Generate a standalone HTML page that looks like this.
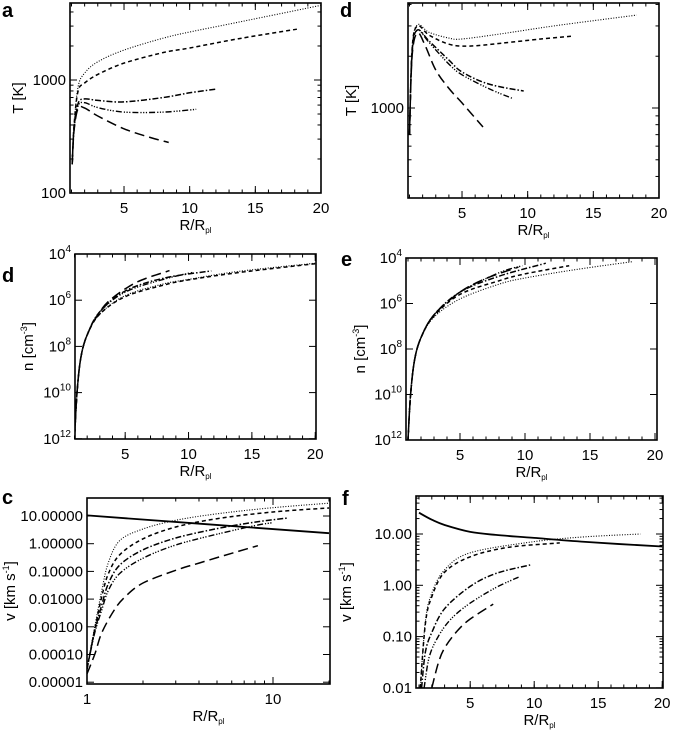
<!DOCTYPE html>
<html><head><meta charset="utf-8">
<style>
html,body{margin:0;padding:0;background:#fff;}
svg{display:block;font-family:"Liberation Sans",sans-serif;}
</style></head>
<body>
<svg id="fig" width="676" height="731" viewBox="0 0 676 731"></svg>
<script>
// ---------- data ----------
// Panel a: temperature T [K]
const aDotX=[1.05,1.2,1.5,2,3,5,8,10,14,20];
const aDotY=[180,400,870,1150,1450,1840,2350,2660,3300,4580];
const aDashX=[1.05,1.2,1.5,2,3,5,8,10,14,18.3];
const aDashY=[180,400,800,940,1120,1410,1750,1920,2350,2830];
const aDdX=[1.05,1.2,1.5,2,3,5,8,10,12];
const aDdY=[180,380,620,680,660,640,700,770,830];
const aD3X=[1.05,1.2,1.5,2,3,5,8,10.5];
const aD3Y=[180,370,590,630,570,520,520,550];
const aLongX=[1.05,1.2,1.5,2,3,5,7,8.4];
const aLongY=[180,360,560,565,480,370,310,280];
// Panel d (top right): temperature
const dDotX=[1.0,1.2,1.6,2.5,4,5,8,12,18.3];
const dDotY=[700,2200,3040,2750,2550,2520,2700,3000,3470];
const dDashX=[1.0,1.2,1.6,2.5,4,5.5,8,11,13.5];
const dDashY=[700,2200,3000,2650,2350,2290,2380,2520,2620];
const dDdX=[1.0,1.2,1.6,2.5,4,5,7,9.7];
const dDdY=[700,2100,2840,2450,1900,1620,1380,1255];
const dD3X=[1.0,1.2,1.6,2.5,4,5,7,8.8];
const dD3Y=[700,2100,2840,2400,1800,1560,1300,1140];
const dLongX=[1.0,1.2,1.6,2.2,3,4,5,6.6];
const dLongY=[700,2000,2730,2300,1660,1300,1070,775];
// Panel d (middle left): density exponent
const nDotX=[1.0,1.2,1.5,2,3,5,8,10,14,20];
const nDotY=[12,10,8.5,7.5,6.6,5.8,5.3,5.1,4.75,4.4];
const nDashX=[1.0,1.2,1.5,2,3,5,8,10,14,20];
const nDashY=[12,10,8.5,7.5,6.6,5.85,5.35,5.12,4.8,4.42];
const nDdX=[1.0,1.2,1.5,2,3,5,8,11.8];
const nDdY=[12,10,8.5,7.5,6.5,5.6,5.05,4.73];
const nD3X=[1.0,1.2,1.5,2,3,5,8,10.3];
const nD3Y=[12,10,8.5,7.5,6.5,5.65,5.1,4.8];
const nLongX=[1.0,1.2,1.5,2,3,4,6,8.5];
const nLongY=[12,10,8.5,7.5,6.5,5.9,5.2,4.72];
// Panel e: density exponent
const eDotX=[1.0,1.2,1.5,2,3,5,8,10,14,18.3];
const eDotY=[12,10,8.5,7.5,6.6,5.8,5.15,4.88,4.5,4.16];
const eDashX=[1.0,1.2,1.5,2,3,5,8,10,13.4];
const eDashY=[12,10,8.5,7.5,6.55,5.6,5.0,4.7,4.34];
const eDdX=[1.0,1.2,1.5,2,3,5,8,11.6];
const eDdY=[12,10,8.5,7.5,6.5,5.5,4.8,4.23];
const eD3X=[1.0,1.2,1.5,2,3,5,8,9.8];
const eD3Y=[12,10,8.5,7.5,6.5,5.5,4.65,4.34];
const eLongX=[1.0,1.2,1.5,2,3,5,7,9.5];
const eLongY=[12,10,8.5,7.5,6.5,5.5,4.9,4.4];
// Panel c: velocity [km/s], log x
const cSolidX=[1,20];
const cSolidY=[10.5,2.4];
const cDotX=[1.0,1.1,1.2,1.3,1.5,2,3,5,10,20];
const cDotY=[0.00003,0.001,0.02,0.2,1.3,3.4,7,12,20,29];
const cDashX=[1.0,1.1,1.2,1.3,1.5,2,3,5,10,20];
const cDashY=[0.00003,0.0008,0.012,0.08,0.4,1.5,4,8,14,19.5];
const cDdX=[1.0,1.1,1.2,1.3,1.5,2,3,5,8,12];
const cDdY=[0.00003,0.0007,0.006,0.035,0.17,0.6,1.6,3.5,6,8.5];
const cD3X=[1.0,1.1,1.2,1.3,1.5,2,3,5,8,10];
const cD3Y=[0.00003,0.0006,0.004,0.02,0.085,0.3,0.9,2.2,4.5,5.8];
const cLongX=[1.0,1.1,1.2,1.4,1.6,2,3,4,6,8.3];
const cLongY=[0.00002,0.0001,0.0006,0.004,0.012,0.038,0.11,0.2,0.45,0.85];
// Panel f: velocity
const fSolidX=[1,2,3,5,7,10,14,20];
const fSolidY=[26,19,15,11,9.6,8.4,7.0,5.7];
const fDotX=[1.1,1.5,2,3,5,10,14,18.3];
const fDotY=[0.01,0.2,0.7,2,4.3,7.1,8.8,10];
const fDashX=[1.1,1.5,2,3,5,8,12];
const fDashY=[0.01,0.18,0.6,1.8,3.6,5.5,6.7];
const fDdX=[1.2,1.5,2,3,5,7,9.7];
const fDdY=[0.01,0.05,0.12,0.35,0.95,1.7,2.5];
const fD3X=[1.4,1.8,2.5,3.5,5,7,8.8];
const fD3Y=[0.01,0.04,0.1,0.22,0.45,0.9,1.45];
const fLongX=[2,2.5,3,4,5,6.8];
const fLongY=[0.01,0.03,0.06,0.13,0.22,0.43];

// ---------- drawing ----------
const NS="http://www.w3.org/2000/svg";
const svg=document.getElementById('fig');
const L=Math.log10;
function mk(tag,attrs,parent){const e=document.createElementNS(NS,tag);for(const k in attrs)e.setAttribute(k,attrs[k]);(parent||svg).appendChild(e);return e;}
const STY={
 dot:{da:"1,1.6",w:1.1},
 dash:{da:"4,3",w:1.5},
 dd:{da:"6,2,1.5,2",w:1.5},
 d3:{da:"6,2,1.2,1.5,1.2,1.5,1.2,2",w:1.4},
 long:{da:"10,5",w:1.5},
 solid:{da:"none",w:1.8}
};
function series(g,p,xs,ys,kind,name){
  const P=xs.map((x,i)=>[p.sx(x),p.sy(ys[i])]);
  let d="M"+P[0][0].toFixed(1)+","+P[0][1].toFixed(1);
  for(let i=0;i<P.length-1;i++){
    const p0=P[Math.max(0,i-1)],p1=P[i],p2=P[i+1],p3=P[Math.min(P.length-1,i+2)];
    const c1=[p1[0]+(p2[0]-p0[0])/6,p1[1]+(p2[1]-p0[1])/6];
    const c2=[p2[0]-(p3[0]-p1[0])/6,p2[1]-(p3[1]-p1[1])/6];
    d+="C"+c1.map(v=>v.toFixed(1)).join(",")+" "+c2.map(v=>v.toFixed(1)).join(",")+" "+p2.map(v=>v.toFixed(1)).join(",");
  }
  const s=STY[kind];
  const e=mk('path',{d:d,fill:"none",stroke:"#000","stroke-width":s.w,"stroke-dasharray":s.da,"stroke-linejoin":"round"},g);
  
  
}
function text(g,x,y,str,opt){
  const t=mk('text',Object.assign({x:x,y:y,"font-size":15,fill:"#000"},opt||{}),g);
  t.textContent=str;return t;
}
function panel(p){
  const g=mk('g',{});
  
  
  const [x0,y0,x1,y1]=p.box;
  const tk=mk('g',{stroke:"#000","stroke-width":1},g);
  
  
  p.xmaj.forEach(v=>{const x=p.sx(v);mk('line',{x1:x,y1:y1,x2:x,y2:y1-7},tk);mk('line',{x1:x,y1:y0,x2:x,y2:y0+7},tk);});
  p.xmin.forEach(v=>{const x=p.sx(v);mk('line',{x1:x,y1:y1,x2:x,y2:y1-3.5},tk);mk('line',{x1:x,y1:y0,x2:x,y2:y0+3.5},tk);});
  p.ymaj.forEach(v=>{const y=p.sy(v);mk('line',{x1:x0,y1:y,x2:x0+7,y2:y},tk);mk('line',{x1:x1,y1:y,x2:x1-7,y2:y},tk);});
  p.ymin.forEach(v=>{const y=p.sy(v);mk('line',{x1:x0,y1:y,x2:x0+3.5,y2:y},tk);mk('line',{x1:x1,y1:y,x2:x1-3.5,y2:y},tk);});
  const b=mk('rect',{x:x0,y:y0,width:x1-x0,height:y1-y0,fill:"none",stroke:"#000","stroke-width":1.6},g);
  
  
  p.xlab.forEach(([v,s])=>{const t=text(g,p.sx(v),y1+20,s,{"text-anchor":"middle"});
    
    });
  p.ylab.forEach(([v,s,sup])=>{const t=text(g,x0-4,p.sy(v)+5,s,{"text-anchor":"end"});
    if(sup){const ts=mk('tspan',{"font-size":10,dy:-7},t);ts.textContent=sup;}
    
    });
  const xt=text(g,(x0+x1)/2,y1+37,"R/R",{"text-anchor":"middle","font-size":15});
  const sub=mk('tspan',{"font-size":8,dy:3},xt);sub.textContent="pl";
  
  
  const yt=mk('text',{x:0,y:0,"font-size":15,"text-anchor":"middle",transform:`translate(${p.ytx},${(y0+y1)/2}) rotate(-90)`},g);
  yt.innerHTML=p.ytitle;
  
  
  const lt=text(g,p.lx,p.ly,p.letter,{"font-size":20,"font-weight":"bold"});
  
  
  const cid='c'+p.letter+p.box[1];
  const cp=mk('clipPath',{id:cid},g);mk('rect',{x:x0,y:y0,width:x1-x0,height:y1-y0},cp);
  const sg=mk('g',{"clip-path":`url(#${cid})`},g);
  p.series.forEach(s=>series(sg,p,s[0],s[1],s[2],s[3]));
}
const lin=(a,b)=>{const r=[];for(let v=a;v<=b;v++)r.push(v);return r;};
const logMinor=(ds)=>{const r=[];ds.forEach(d=>{for(let k=2;k<=9;k++)r.push(k*Math.pow(10,d));});return r;};
const xl=[[5,"5"],[10,"10"],[15,"15"],[20,"20"]];
const v5=[5,10,15,20];

panel({name:"panel-a-temperature",box:[70,3,321,193],letter:"a",lx:2,ly:17,
 sx:v=>71.5+(v-1)*13.13, sy:v=>193-113*L(v/100),
 xmaj:v5,xmin:lin(1,20),ymaj:[100,1000],ymin:logMinor([2,3]).filter(v=>v<4800),
 xlab:xl,ylab:[[100,"100"],[1000,"1000"]],ytx:23,ytitle:"T [K]",
 series:[[aDotX,aDotY,"dot","series-dotted"],[aDashX,aDashY,"dash","series-dashed"],[aDdX,aDdY,"dd","series-dash-dot"],[aD3X,aD3Y,"d3","series-dash-dot-dot"],[aLongX,aLongY,"long","series-long-dash"]]});

panel({name:"panel-d-temperature",box:[408,3,659,198],letter:"d",lx:340,ly:17,
 sx:v=>409.5+(v-1)*13.13, sy:v=>108-172*L(v/1000),
 xmaj:v5,xmin:lin(1,20),ymaj:[1000],ymin:[400,500,600,700,800,900,2000,3000,4000],
 xlab:xl,ylab:[[1000,"1000"]],ytx:356,ytitle:"T [K]",
 series:[[dDotX,dDotY,"dot","series-dotted"],[dDashX,dDashY,"dash","series-dashed"],[dDdX,dDdY,"dd","series-dash-dot"],[dD3X,dD3Y,"d3","series-dash-dot-dot"],[dLongX,dLongY,"long","series-long-dash"]]});

const nlab=[[4,"10","4"],[6,"10","6"],[8,"10","8"],[10,"10","10"],[12,"10","12"]];
panel({name:"panel-d-density",box:[75,254,316,439],letter:"d",lx:2,ly:282,
 sx:v=>74.5+(v-1)*12.67, sy:e=>254+(e-4)*23.1,
 xmaj:v5,xmin:lin(1,20),ymaj:[4,6,8,10,12],ymin:[],
 xlab:xl,ylab:nlab,ytx:33,ytitle:"n [cm<tspan font-size='9' dy='-6'>-3</tspan><tspan dy='6'>]</tspan>",
 series:[[nDotX,nDotY,"dot","series-dotted"],[nDashX,nDashY,"dash","series-dashed"],[nDdX,nDdY,"dd","series-dash-dot"],[nD3X,nD3Y,"d3","series-dash-dot-dot"],[nLongX,nLongY,"long","series-long-dash"]]});

panel({name:"panel-e-density",box:[406,258,657,440],letter:"e",lx:341,ly:266,
 sx:v=>408+(v-1)*13, sy:e=>258+(e-4)*22.75,
 xmaj:v5,xmin:lin(1,20),ymaj:[4,6,8,10,12],ymin:[],
 xlab:xl,ylab:nlab,ytx:365,ytitle:"n [cm<tspan font-size='9' dy='-6'>-3</tspan><tspan dy='6'>]</tspan>",
 series:[[eDotX,eDotY,"dot","series-dotted"],[eDashX,eDashY,"dash","series-dashed"],[eDdX,eDdY,"dd","series-dash-dot"],[eD3X,eD3Y,"d3","series-dash-dot-dot"],[eLongX,eLongY,"long","series-long-dash"]]});

panel({name:"panel-c-velocity",box:[87,498,330,684],letter:"c",lx:2,ly:504,
 sx:v=>87+186*L(v), sy:v=>516-27.7*(L(v)-1),
 xmaj:[1,10],xmin:[2,3,4,5,6,7,8,9,20],ymaj:[10,1,0.1,0.01,0.001,0.0001,0.00001],ymin:[],
 xlab:[[1,"1"],[10,"10"]],
 ylab:[[10,"10.00000"],[1,"1.00000"],[0.1,"0.10000"],[0.01,"0.01000"],[0.001,"0.00100"],[0.0001,"0.00010"],[0.00001,"0.00001"]],
 ytx:15,ytitle:"v [km s<tspan font-size='9' dy='-6'>-1</tspan><tspan dy='6'>]</tspan>",
 series:[[cSolidX,cSolidY,"solid","series-solid"],[cDotX,cDotY,"dot","series-dotted"],[cDashX,cDashY,"dash","series-dashed"],[cDdX,cDdY,"dd","series-dash-dot"],[cD3X,cD3Y,"d3","series-dash-dot-dot"],[cLongX,cLongY,"long","series-long-dash"]]});

panel({name:"panel-f-velocity",box:[416,496,663,688],letter:"f",lx:342,ly:505,
 sx:v=>419+(v-1)*12.8, sy:v=>534-51.3*(L(v)-1),
 xmaj:v5,xmin:lin(1,20),ymaj:[10,1,0.1,0.01],ymin:logMinor([-2,-1,0,1]).filter(v=>v<55),
 xlab:xl,ylab:[[10,"10.00"],[1,"1.00"],[0.1,"0.10"],[0.01,"0.01"]],
 ytx:351,ytitle:"v [km s<tspan font-size='9' dy='-6'>-1</tspan><tspan dy='6'>]</tspan>",
 series:[[fSolidX,fSolidY,"solid","series-solid"],[fDotX,fDotY,"dot","series-dotted"],[fDashX,fDashY,"dash","series-dashed"],[fDdX,fDdY,"dd","series-dash-dot"],[fD3X,fD3Y,"d3","series-dash-dot-dot"],[fLongX,fLongY,"long","series-long-dash"]]});
</script>
</body></html>
